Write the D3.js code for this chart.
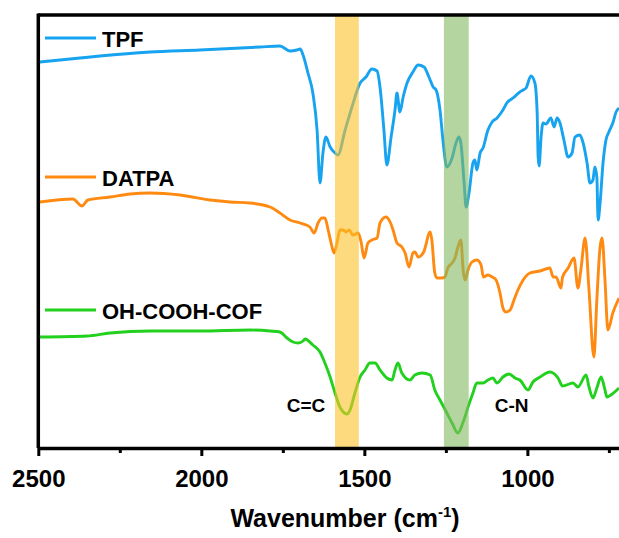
<!DOCTYPE html>
<meta charset="utf-8">
<html>
  <head>
    <script src="https://d3js.org/d3.v7.min.js"></script>
    <style>
      body { margin: 0; background: #fff; }
      text { font-family: "Liberation Sans", Arial, sans-serif; font-weight: bold; }
    </style>
  </head>
  <body>
    <div id="chart"></div>
    <script>
      // spectra: [wavenumber, transmittance (a.u.)]
      var tpf = [[2495,386],[2372,390],[2311,392],[2157,396],[2004,398],[1820,401],[1759,402],[1728,397],
        [1707,398],[1697,399],[1688,393],[1673,375],[1658,355],[1645,318],[1636,265],[1627,295],[1618,311],
        [1605,301],[1590,295],[1581,293],[1559,318],[1538,341],[1513,365],[1495,371],[1477,379],[1461,377],
        [1452,361],[1440,318],[1431,283],[1418,311],[1406,338],[1400,355],[1391,336],[1381,351],[1369,365],
        [1351,376],[1335,383],[1317,381],[1302,371],[1289,361],[1280,358],[1268,338],[1259,308],[1247,281],
        [1231,290],[1219,305],[1210,311],[1204,305],[1194,265],[1188,241],[1179,255],[1167,285],[1161,288],
        [1155,278],[1145,295],[1136,300],[1121,318],[1108,326],[1093,330],[1075,338],[1063,345],[1044,350],
        [1023,356],[1013,358],[1004,360],[989,372],[977,365],[970,335],[967,291],[964,282],[958,311],[952,325],
        [943,324],[928,330],[918,321],[909,330],[900,325],[888,308],[875,291],[863,295],[854,311],[839,313],
        [829,305],[817,285],[808,265],[799,268],[793,281],[787,271],[783,228],[777,245],[768,285],[759,308],
        [750,316],[738,325],[728,336],[719,340]];

      var datpa = [[2495,246],[2394,249],[2366,242],[2348,248],[2280,251],[2219,254],[2157,255],[2065,253],
        [1973,248],[1912,246],[1851,245],[1789,241],[1759,235],[1728,228],[1697,225],[1667,221],[1654,215],
        [1642,225],[1630,230],[1621,230],[1611,218],[1602,205],[1593,195],[1584,205],[1575,218],[1565,218],
        [1556,216],[1547,218],[1535,213],[1519,215],[1510,206],[1501,190],[1489,205],[1477,208],[1461,210],
        [1452,225],[1434,231],[1421,226],[1412,218],[1400,205],[1385,201],[1375,195],[1363,181],[1351,195],
        [1345,196],[1335,191],[1318,196],[1298,216],[1293,208],[1284,175],[1277,170],[1262,170],[1253,171],
        [1244,180],[1231,185],[1222,190],[1213,201],[1204,208],[1197,178],[1191,168],[1182,178],[1170,186],
        [1155,188],[1142,183],[1135,171],[1121,173],[1108,171],[1096,168],[1084,155],[1075,140],[1066,136],
        [1053,138],[1041,148],[1029,158],[1013,168],[992,175],[961,177],[931,180],[921,171],[912,171],
        [897,160],[892,171],[875,180],[857,190],[845,160],[836,178],[823,210],[811,158],[796,91],[787,148],
        [777,201],[771,210],[762,168],[753,118],[738,135],[719,150]];

      var cof = [[2495,111],[2351,112],[2280,115],[2157,117],[2004,117],[1851,118],[1789,117],[1759,116],
        [1737,110],[1719,106],[1703,105],[1688,107],[1682,109],[1658,103],[1636,96],[1621,85],[1605,71],
        [1590,55],[1575,41],[1553,34],[1544,38],[1529,55],[1513,71],[1498,78],[1483,85],[1467,85],[1452,78],
        [1431,70],[1415,68],[1406,78],[1397,85],[1385,75],[1360,68],[1345,73],[1323,75],[1298,73],[1284,58],
        [1268,48],[1247,35],[1231,25],[1213,15],[1197,26],[1182,41],[1167,55],[1155,65],[1136,65],[1121,68],
        [1106,70],[1093,65],[1075,71],[1056,74],[1038,70],[1023,68],[998,58],[983,66],[961,71],[931,76],
        [906,70],[892,62],[860,65],[845,61],[820,73],[811,61],[799,50],[787,60],[774,71],[762,58],[756,51],
        [744,53],[719,60]];

      var seriesNames = ["TPF", "DATPA", "OH-COOH-COF"];
      var seriesColors = ["#17a3f0", "#ff8a12", "#22d01e"];
      var seriesData = [tpf, datpa, cof];

      // highlighted bands (wavenumber ranges) and their labels
      var bands = [[1590, 1517], [1256, 1180]];
      var bandColors = ["#fcc126", "#82b961"];
      var bandLabels = ["C=C", "C-N"];
      var bandLabelPos = [[1738, 36], [1100, 36]];

      var majorTicks = [2500, 2000, 1500, 1000];
      var minorTicks = [2250, 1750, 1250, 750];

      var width = 619, height = 538;
      var plotLeft = 38.3, plotRight = 619, plotTop = 15, plotBottom = 448;

      var svg = d3.select("#chart").append("svg")
          .attr("width", width)
          .attr("height", height);

      var x = d3.scaleLinear().domain([2500, 719]).range([plotLeft, plotRight]);
      var y = d3.scaleLinear().domain([0, 433]).range([plotBottom, plotTop]);

      var line = d3.line()
          .x(function(d) { return x(d[0]); })
          .y(function(d) { return y(d[1]); })
          .curve(d3.curveMonotoneX);

      // spectra (x descends, so feed the points in ascending wavenumber)
      svg.append("g").selectAll("path")
        .data(seriesData)
        .enter().append("path")
          .attr("d", function(d) { return line(d.slice().reverse()); })
          .attr("fill", "none")
          .attr("stroke", function(d, i) { return seriesColors[i]; })
          .attr("stroke-width", 2.9)
          .attr("stroke-linejoin", "round");

      // translucent bands drawn over the lines
      svg.append("g").selectAll("rect")
        .data(bands)
        .enter().append("rect")
          .attr("x", function(d) { return x(d[0]); })
          .attr("width", function(d) { return x(d[1]) - x(d[0]); })
          .attr("y", plotTop)
          .attr("height", plotBottom - plotTop)
          .attr("fill", function(d, i) { return bandColors[i]; })
          .attr("opacity", 0.6);

      svg.append("g").selectAll("text")
        .data(bandLabels)
        .enter().append("text")
          .attr("x", function(d, i) { return x(bandLabelPos[i][0]); })
          .attr("y", function(d, i) { return y(bandLabelPos[i][1]); })
          .attr("font-size", 19)
          .text(function(d) { return d; });

      // legend, each entry sits above its curve
      var legendY = [38, 177, 310];
      var legend = svg.append("g").selectAll("g")
        .data(seriesNames)
        .enter().append("g")
          .attr("transform", function(d, i) { return "translate(0," + legendY[i] + ")"; });
      legend.append("line")
          .attr("x1", 45).attr("x2", 96)
          .attr("stroke", function(d, i) { return seriesColors[i]; })
          .attr("stroke-width", 3);
      legend.append("text")
          .attr("x", 102).attr("y", 8.5)
          .attr("font-size", 22)
          .text(function(d) { return d; });

      // frame
      svg.append("line")
          .attr("x1", plotLeft).attr("x2", plotRight)
          .attr("y1", plotTop).attr("y2", plotTop)
          .attr("stroke", "#000").attr("stroke-width", 3.5);
      svg.append("line")
          .attr("x1", plotLeft).attr("x2", plotLeft)
          .attr("y1", plotTop - 1.5).attr("y2", plotBottom)
          .attr("stroke", "#000").attr("stroke-width", 3.5);

      // bottom axis
      var xAxis = svg.append("g")
          .attr("transform", "translate(0," + plotBottom + ")")
          .call(d3.axisBottom(x).tickValues(majorTicks).tickSize(8).tickSizeOuter(0).tickFormat(d3.format("d")));
      svg.append("g")
          .attr("transform", "translate(0," + plotBottom + ")")
          .call(d3.axisBottom(x).tickValues(minorTicks).tickSize(5).tickSizeOuter(0).tickFormat(""))
          .select(".domain").remove();
      xAxis.select(".domain").attr("stroke-width", 3.5);
      svg.selectAll(".tick line").attr("stroke-width", 3);
      xAxis.selectAll("text")
          .attr("y", 39).attr("dy", null)
          .attr("font-size", 24)
          .attr("font-family", "Liberation Sans, Arial, sans-serif")
          .attr("font-weight", "bold")
          .attr("fill", "#000");

      var title = svg.append("text")
          .attr("x", 345).attr("y", 527)
          .attr("text-anchor", "middle")
          .attr("font-size", 25);
      title.append("tspan").text("Wavenumber (cm");
      title.append("tspan").attr("dy", -10).attr("font-size", 15).text("-1");
      title.append("tspan").attr("dy", 10).text(")");
    </script>
  </body>
</html>
